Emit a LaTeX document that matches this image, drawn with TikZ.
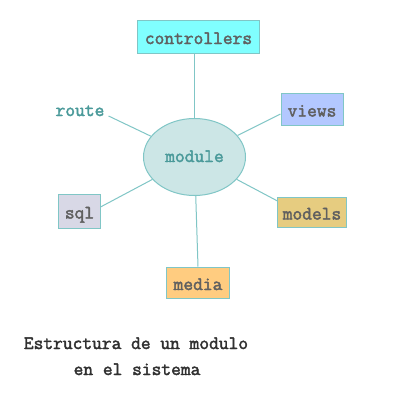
\documentclass[tikz,border=0pt]{standalone}
\usepackage{fontspec}
\setmonofont{Latin Modern Mono}[AutoFakeBold=2.2]
\usetikzlibrary{shapes.geometric}
\definecolor{bordc}{HTML}{80C6C6}
\definecolor{ctrlfill}{HTML}{80FFFF}
\definecolor{viewfill}{HTML}{B3C8FF}
\definecolor{sqlfill}{HTML}{D8D8E6}
\definecolor{modelfill}{HTML}{E6CC80}
\definecolor{mediafill}{HTML}{FFCC80}
\definecolor{modfill}{HTML}{CCE6E6}
\definecolor{txtgray}{HTML}{606060}
\definecolor{txtteal}{HTML}{4A9A9A}
\definecolor{capcol}{HTML}{303030}
\newcommand{\nodefnt}{\ttfamily\bfseries\fontsize{19}{22}\selectfont}
\tikzset{
  boxnode/.style={draw=bordc, line width=1bp, inner sep=0pt, text height=15bp, text depth=0pt, font=\nodefnt, text=txtgray},
  modnode/.style={ellipse, draw=bordc, line width=1bp, fill=modfill, inner sep=0pt, minimum width=102bp, minimum height=77bp, text height=10bp, text depth=0pt, font=\nodefnt, text=txtteal},
  labnode/.style={inner sep=0pt, anchor=base, font=\nodefnt, text=txtteal},
  capnode/.style={inner sep=0pt, anchor=base, font=\nodefnt, text=capcol},
  link/.style={draw=bordc, line width=1bp}
}
\begin{document}
\begin{tikzpicture}[x=1bp,y=-1bp]
\fill[white] (0,0) rectangle (400,400);
\useasboundingbox (0,0) rectangle (400,400);
\node[modnode] (module) at (194.5,157) {module};
\node[boxnode, fill=ctrlfill, minimum width=121bp, minimum height=33bp] (controllers) at (198.5,36.5) {controllers};
\node[boxnode, fill=viewfill, minimum width=62bp, minimum height=32bp] (views) at (312,109) {views};
\node[boxnode, fill=sqlfill, minimum width=41bp, minimum height=34bp] (sql) at (79.5,211) {sql};
\node[boxnode, fill=modelfill, minimum width=68bp, minimum height=30bp] (models) at (312,212) {models};
\node[boxnode, fill=mediafill, minimum width=62bp, minimum height=31bp] (media) at (198,282.5) {media};
\node[labnode] (route) at (80,116) {route};
\draw[link] (controllers.south -| module.center) -- (module);
\draw[link] ([xshift=4bp]route.base east) -- (module);
\draw[link] ([yshift=-5bp]views.west) -- (module);
\draw[link] ([yshift=4bp]sql.east) -- (module);
\draw[link] ([yshift=11bp]models.west) -- (module);
\draw[link] (media.north) -- (module);
\node[capnode] (cap1) at (136,349) {Estructura de un modulo};
\node[capnode] (cap2) at (137,375) {en el sistema};
\end{tikzpicture}
\end{document}
